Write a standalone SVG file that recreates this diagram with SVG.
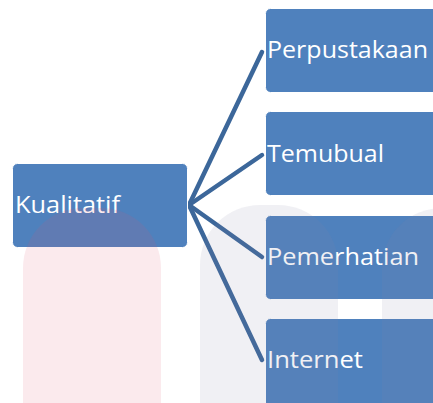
<svg xmlns="http://www.w3.org/2000/svg" width="433" height="403" viewBox="0 0 433 403">
<style>
.box{fill:#4f81bd;stroke:#ffffff;stroke-width:1}
.lbl{fill:#ffffff;font-family:"Open Sans","Noto Sans",sans-serif;font-size:24px}
.conn{stroke:#3c679a;stroke-width:4.5;fill:none;stroke-linecap:round}
.wm-p{fill:#e0506e;opacity:0.12}
.wm-g{fill:#8080a8;opacity:0.12}
</style>
<rect width="433" height="403" fill="#ffffff"/>
<g id="connectors">
<line class="conn" x1="189" y1="205" x2="262" y2="52"/>
<line class="conn" x1="189" y1="205" x2="262" y2="155"/>
<line class="conn" x1="189" y1="205" x2="262" y2="257"/>
<line class="conn" x1="189" y1="205" x2="262" y2="360"/>
</g>
<g id="kualitatif">
<rect class="box" x="12.5" y="163.5" width="175" height="84" rx="5"/>
<text class="lbl" x="15" y="213" textLength="105" lengthAdjust="spacingAndGlyphs">Kualitatif</text>
</g>
<g id="perpustakaan">
<rect class="box" x="265.5" y="8.5" width="175" height="84" rx="5"/>
<text class="lbl" x="267" y="58" textLength="161" lengthAdjust="spacingAndGlyphs">Perpustakaan</text>
</g>
<g id="temubual">
<rect class="box" x="265.5" y="111.5" width="175" height="84" rx="5"/>
<text class="lbl" x="267" y="162" textLength="117" lengthAdjust="spacingAndGlyphs">Temubual</text>
</g>
<g id="pemerhatian">
<rect class="box" x="265.5" y="215.5" width="175" height="84" rx="5"/>
<text class="lbl" x="267" y="265" textLength="152" lengthAdjust="spacingAndGlyphs">Pemerhatian</text>
</g>
<g id="internet">
<rect class="box" x="265.5" y="318.5" width="175" height="90" rx="5"/>
<text class="lbl" x="267" y="368" textLength="96" lengthAdjust="spacingAndGlyphs">Internet</text>
</g>
<g id="watermark">
<rect class="wm-p" x="23" y="208" width="138" height="300" rx="60"/>
<rect class="wm-g" x="200" y="205" width="138" height="300" rx="60"/>
<rect class="wm-g" x="382" y="208" width="138" height="300" rx="60"/>
</g>
</svg>
